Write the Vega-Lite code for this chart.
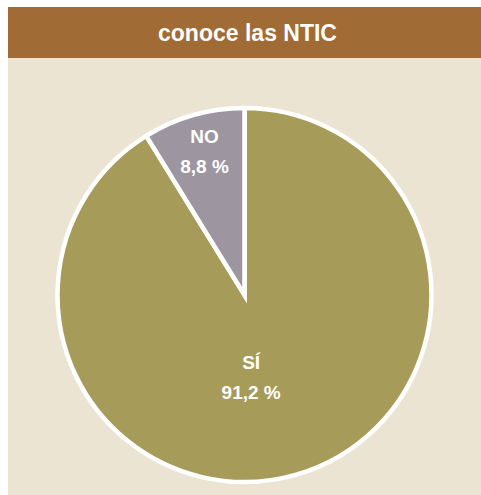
{
  "$schema": "https://vega.github.io/schema/vega-lite/v6.json",
  "background": "white",
  "padding": {"left": 8, "top": 7, "right": 0, "bottom": 0},
  "spacing": 0,
  "config": {"view": {"stroke": null}, "concat": {"spacing": 0}},
  "datasets": {
    "title": [{"t": "conoce las NTIC"}],
    "shares": [
      {"category": "SÍ", "value": 91.2, "label": "91,2 %"},
      {"category": "NO", "value": 8.8, "label": "8,8 %"}
    ]
  },
  "vconcat": [
    {
      "width": 473,
      "height": 51,
      "view": {"fill": "#A06B35", "stroke": null},
      "data": {"name": "title"},
      "mark": {"type": "text", "font": "Liberation Sans", "fontSize": 23, "fontWeight": "bold", "fill": "white", "dx": 3, "dy": 1, "baseline": "middle", "align": "center"},
      "encoding": {"text": {"field": "t", "type": "nominal"}}
    },
    {
      "width": 473,
      "height": 37,
      "view": {"fill": "#EBE4D3", "stroke": null},
      "data": {"name": "title"},
      "mark": {"type": "text", "fill": "transparent"},
      "encoding": {"text": {"value": ""}}
    },
    {
      "width": 473,
      "height": 400,
      "view": {"fill": "#EBE4D3", "stroke": null},
      "data": {"name": "shares"},
      "encoding": {
        "theta": {"field": "value", "type": "quantitative", "stack": true},
        "order": {"field": "value", "type": "quantitative", "sort": "descending"}
      },
      "layer": [
        {
          "mark": {"type": "arc", "radius": 187, "stroke": "white", "strokeWidth": 4.5},
          "encoding": {
            "color": {"field": "category", "type": "nominal", "scale": {"domain": ["SÍ", "NO"], "range": ["#A69B58", "#9D95A0"]}, "legend": null}
          }
        },
        {
          "mark": {"type": "text", "radius": 150, "dx": 1, "dy": -14, "font": "Liberation Sans", "fontSize": 19, "fontWeight": "bold", "fill": "white"},
          "encoding": {
            "detail": {"field": "category", "type": "nominal"},
            "text": {"condition": {"test": "datum.category === 'NO'", "field": "category"}, "value": ""}
          }
        },
        {
          "mark": {"type": "text", "radius": 150, "dx": 1, "dy": 16, "font": "Liberation Sans", "fontSize": 19, "fontWeight": "bold", "fill": "white"},
          "encoding": {
            "detail": {"field": "category", "type": "nominal"},
            "text": {"condition": {"test": "datum.category === 'NO'", "field": "label"}, "value": ""}
          }
        },
        {
          "mark": {"type": "text", "radius": 83, "dx": -16, "dy": -12, "font": "Liberation Sans", "fontSize": 19, "fontWeight": "bold", "fill": "white"},
          "encoding": {
            "detail": {"field": "category", "type": "nominal"},
            "text": {"condition": {"test": "datum.category === 'SÍ'", "field": "category"}, "value": ""}
          }
        },
        {
          "mark": {"type": "text", "radius": 83, "dx": -16, "dy": 18, "font": "Liberation Sans", "fontSize": 19, "fontWeight": "bold", "fill": "white"},
          "encoding": {
            "detail": {"field": "category", "type": "nominal"},
            "text": {"condition": {"test": "datum.category === 'SÍ'", "field": "label"}, "value": ""}
          }
        }
      ]
    }
  ]
}
